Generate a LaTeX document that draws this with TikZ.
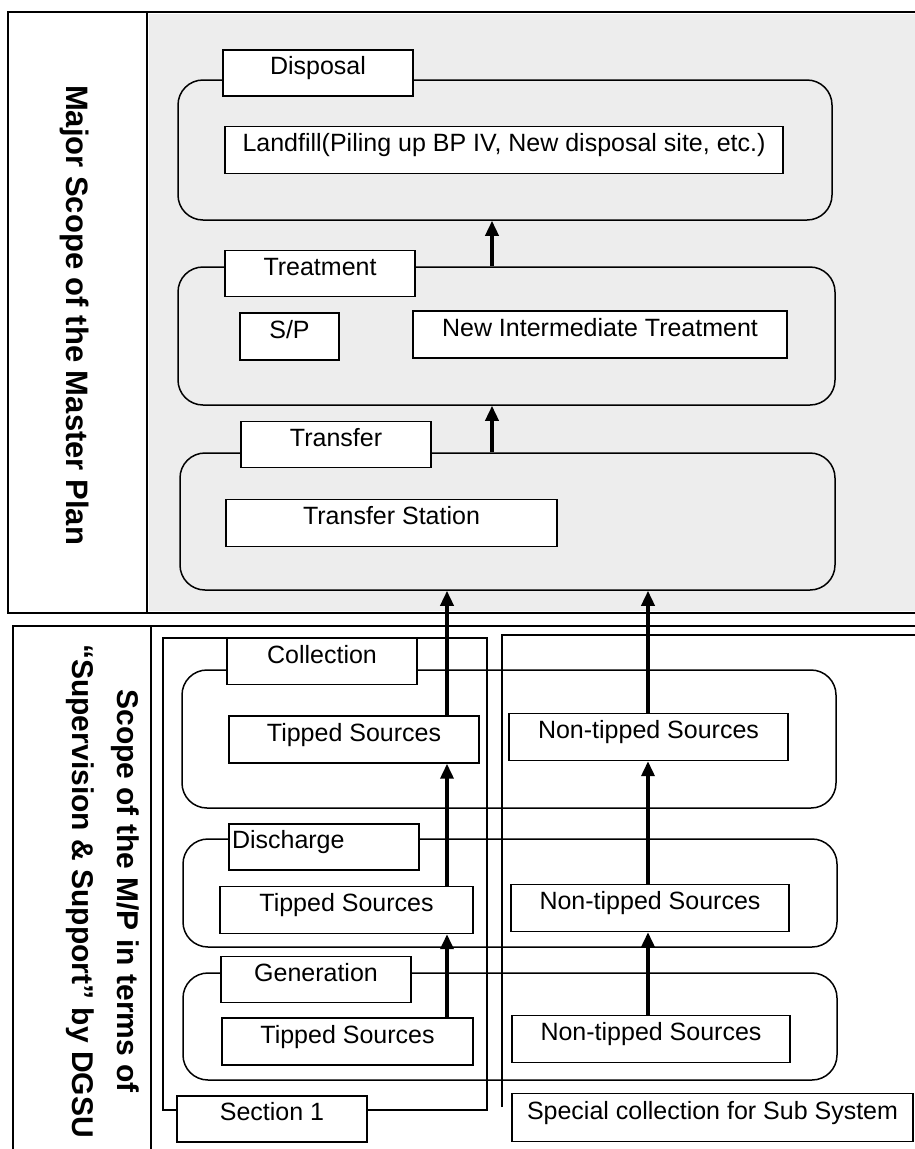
\documentclass[tikz,border=0pt]{standalone}
\usepackage{fontspec}
\setmainfont{Liberation Sans}
\usetikzlibrary{arrows.meta,calc}
\begin{document}
\begin{tikzpicture}[x=1pt,y=-1pt,
  txt/.style={font=\fontsize{25}{30}\selectfont, text height=18pt, text depth=15pt, inner ysep=0pt, inner xsep=0pt},
  tab/.style={txt, draw, line width=1.4pt, fill=white, minimum width=190pt, minimum height=46pt},
  ibox/.style={txt, draw, line width=1.4pt, fill=white, minimum height=47pt},
  grp/.style={draw, line width=1.5pt, rounded corners=25pt, inner sep=0pt},
  framel/.style={line width=2.6pt},
  arr/.style={line width=3.5pt, -{Triangle[length=15pt,width=13pt]}},
  vlab/.style={font=\bfseries\fontsize{30}{45}\selectfont, rotate=-90, align=center, inner sep=0pt}
]
\useasboundingbox (0,0) rectangle (914,1149);
% upper section
\fill[black!7] (149,14) rectangle (920,611);
\draw[framel] (925,12) -- (8,12) -- (8,613) -- (925,613);
\draw[framel] (147,12) -- (147,613);
\node[vlab, font=\bfseries\fontsize{31}{45}\selectfont] (lab1) at (75,315) {Major Scope of the Master Plan};

\node[grp, minimum width=654pt, minimum height=140pt] (gDis) at (505,150) {};
\node[tab] (tDis) at (318,73) {Disposal};
\node[ibox, minimum width=558pt] (landfill) at (504,150) {Landfill(Piling up BP IV, New disposal site, etc.)};

\node[grp, minimum width=657pt, minimum height=138pt] (gTre) at (506.5,336) {};
\node[tab] (tTre) at (320,273.5) {Treatment};
\node[ibox, minimum width=99pt] (sp) at (289.5,336.5) {S/P};
\node[ibox, minimum width=374pt] (nit) at (600,334.5) {New Intermediate Treatment};

\node[grp, minimum width=655pt, minimum height=137pt] (gTra) at (507.5,521.5) {};
\node[tab] (tTra) at (336,444.5) {Transfer};
\node[ibox, minimum width=331pt] (ts) at (391.5,523) {Transfer Station};

% lower section
\draw[framel] (13,1160) -- (13,626) -- (925,626);
\draw[framel] (151,626) -- (151,1160);
\node[vlab] (lab2) at (102.5,891) {Scope of the M/P in terms of\\“Supervision \& Support” by DGSU};

\draw[framel] (163,638) rectangle (487,1110);
\draw[framel] (502,1107) -- (502,635) -- (925,635);

\node[grp, minimum width=654pt, minimum height=138pt] (gCol) at (509,739) {};
\node[tab] (tCol) at (322,661.5) {Collection};
\node[ibox, minimum width=250pt] (colT) at (354,739.5) {Tipped Sources};
\node[ibox, minimum width=279pt] (colN) at (648.5,737) {Non-tipped Sources};

\node[grp, minimum width=654pt, minimum height=108pt] (gDisc) at (510,893) {};
\node[tab, text width=184pt, inner xsep=3pt, align=left] (tDisc) at (324,847) {Discharge};
\node[ibox, minimum width=253pt] (disT) at (346.5,910) {Tipped Sources};
\node[ibox, minimum width=278pt] (disN) at (650,908) {Non-tipped Sources};

\node[grp, minimum width=654pt, minimum height=107pt] (gGen) at (510,1026.5) {};
\node[tab] (tGen) at (316,979.5) {Generation};
\node[ibox, minimum width=251pt] (genT) at (347.5,1041.5) {Tipped Sources};
\node[ibox, minimum width=278pt] (genN) at (651,1039) {Non-tipped Sources};

\node[tab] (sec1) at (272,1119) {Section 1};
\node[tab, minimum width=401pt, minimum height=48pt] (special) at (712.5,1117.5) {Special collection for Sub System};

% arrows
\coordinate (ux) at (492,0);
\coordinate (tx) at (447,0);
\coordinate (nx) at (648,0);
\draw[arr] (gTra.north -| ux) -- (gTre.south -| ux);
\draw[arr] (gTre.north -| ux) -- (gDis.south -| ux);
\draw[arr] (genT.north -| tx) -- (disT.south -| tx);
\draw[arr] (disT.north -| tx) -- (colT.south -| tx);
\draw[arr] (colT.north -| tx) -- (gTra.south -| tx);
\draw[arr] (genN.north -| nx) -- (disN.south -| nx);
\draw[arr] (disN.north -| nx) -- (colN.south -| nx);
\draw[arr] (colN.north -| nx) -- (gTra.south -| nx);
\end{tikzpicture}
\end{document}
